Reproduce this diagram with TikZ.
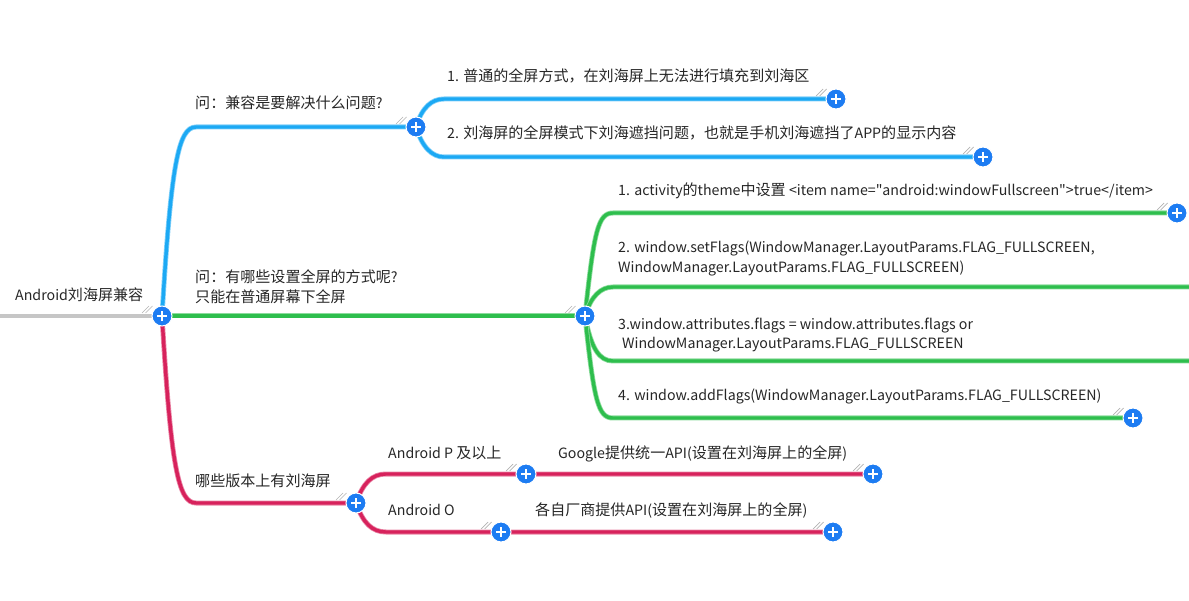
\documentclass[tikz,border=0pt]{standalone}
\usepackage{fontspec}
\setmainfont{Noto Sans CJK SC}[Ligatures=TeXOff]
\newfontfamily\cjkf{Noto Sans CJK SC}[Scale=1.06]
\usepackage{tikz}
\definecolor{qblue}{HTML}{1CA9F4}
\definecolor{qgreen}{HTML}{2EBE4D}
\definecolor{qpink}{HTML}{D7225C}
\definecolor{knobblue}{HTML}{1D7CF2}
\newXeTeXintercharclass\hanclass
\newcount\hanc
\def\hanrange#1#2{\hanc=#1 \loop\XeTeXcharclass\hanc=\hanclass \advance\hanc 1 \ifnum\hanc<#2 \repeat}
\hanrange{"3000}{"3040}\hanrange{"4E00}{"A000}\hanrange{"FF00}{"FFF0}
\XeTeXinterchartoks 0 \hanclass = {\cjkf}
\XeTeXinterchartoks 4095 \hanclass = {\cjkf}
\XeTeXinterchartoks \hanclass 0 = {\rmfamily}
\XeTeXinterchartoks 4095 0 = {\rmfamily}
\XeTeXinterchartokenstate=1
\newcommand\grip[1]{\draw[gray!60, line width=0.7pt] ([shift={(-20,-3)}]#1) -- ++(7,-7) ([shift={(-16.5,-3)}]#1) -- ++(7,-7);}

\begin{document}
\begin{tikzpicture}[x=1pt, y=-1pt,
every node/.style={inner sep=0pt, anchor=base west, text=black!85,
font=\fontsize{14.2}{17}\selectfont},
knob/.style={circle, fill=knobblue, draw=white, line width=1pt, minimum size=20pt,
anchor=center, path picture={\draw[white, line width=2.6pt]
([xshift=-5pt]path picture bounding box.center) -- ([xshift=5pt]path picture bounding box.center)
([yshift=-5pt]path picture bounding box.center) -- ([yshift=5pt]path picture bounding box.center);}},
branch/.style={draw=#1, line width=3.4pt, preaction={draw=#1!55, line width=5pt}}]
\useasboundingbox (0,0) rectangle (1189,601);
\coordinate (edge) at (0,316);
\coordinate (root) at (162,316);
\coordinate (qa) at (416,127);
\coordinate (qb) at (585,316);
\coordinate (qc) at (356,503);
\coordinate (a1) at (836,99);
\coordinate (a2) at (983,157);
\coordinate (b1) at (1177,213);
\coordinate (b2) at (1189,287);
\coordinate (b3) at (1189,361);
\coordinate (b4) at (1133,418);
\coordinate (c1) at (526,474);
\coordinate (c1x) at (873,474);
\coordinate (c2) at (501,532);
\coordinate (c2x) at (833,532);

\draw[gray!45, line width=4.4pt] (edge) -- (root);
\draw[branch=qgreen] (root) -- (qb);
\draw[branch=qblue] (root) .. controls +(9,-150) and +(-18,0) .. ([xshift=-220]qa) -- (qa);
\draw[branch=qpink] (root) .. controls +(9,150) and +(-18,0) .. ([xshift=-160]qc) -- (qc);
\draw[branch=qblue] (qa) .. controls +(6,-20) and +(-12,0) .. ([shift={(28,-28)}]qa) -- (a1);
\draw[branch=qblue] (qa) .. controls +(6,20) and +(-12,0) .. ([shift={(28,30)}]qa) -- (a2);
\draw[branch=qgreen] (qb) .. controls +(9,-85) and +(-15,0) .. ([shift={(28,-103)}]qb) -- (b1);
\draw[branch=qgreen] (qb) .. controls +(6,-20) and +(-12,0) .. ([shift={(28,-29)}]qb) -- (b2);
\draw[branch=qgreen] (qb) .. controls +(6,32) and +(-14,0) .. ([shift={(28,45)}]qb) -- (b3);
\draw[branch=qgreen] (qb) .. controls +(9,85) and +(-15,0) .. ([shift={(28,102)}]qb) -- (b4);
\draw[branch=qpink] (qc) .. controls +(7,-20) and +(-14,0) .. ([shift={(30,-29)}]qc) -- (c1x);
\draw[branch=qpink] (qc) .. controls +(7,20) and +(-14,0) .. ([shift={(30,29)}]qc) -- (c2x);

\foreach \k in {root,qa,qb,qc,a1,a2,b1,b4,c1,c1x,c2,c2x}{\grip{\k}}
\foreach \k in {root,qa,qb,qc,a1,a2,b1,b4,c1,c1x,c2,c2x}{\node[knob] (k-\k) at (\k) {};}

\node (rt) at (15,301) {Android刘海屏兼容};
\node (ta) at (195,109) {问：兼容是要解决什么问题?};
\node (ta1) at (447,82) {1. 普通的全屏方式，在刘海屏上无法进行填充到刘海区};
\node (ta2) at (447,139) {2. 刘海屏的全屏模式下刘海遮挡问题，也就是手机刘海遮挡了APP的显示内容};
\node (tb) at (195,283) {问：有哪些设置全屏的方式呢?};
\node (tbb) at (195,303) {只能在普通屏幕下全屏};
\node (tb1) at (618,196) {1. activity的theme中设置 <item name="android:windowFullscreen">true</item>};
\node (tb2) at (618,253) {2. window.setFlags(WindowManager.LayoutParams.FLAG\_FULLSCREEN,};
\node (tb2b) at (618,273) {WindowManager.LayoutParams.FLAG\_FULLSCREEN)};
\node (tb3) at (618,330) {3.window.attributes.flags = window.attributes.flags or};
\node (tb3b) at (622,349) {WindowManager.LayoutParams.FLAG\_FULLSCREEN};
\node (tb4) at (618,401) {4. window.addFlags(WindowManager.LayoutParams.FLAG\_FULLSCREEN)};
\node (tc) at (195,486) {哪些版本上有刘海屏};
\node (tc1) at (388,458) {Android P 及以上};
\node (tc1x) at (558,458) {Google提供统一API(设置在刘海屏上的全屏)};
\node (tc2) at (388,515) {Android O};
\node (tc2x) at (535,515) {各自厂商提供API(设置在刘海屏上的全屏)};
\end{tikzpicture}
\end{document}
